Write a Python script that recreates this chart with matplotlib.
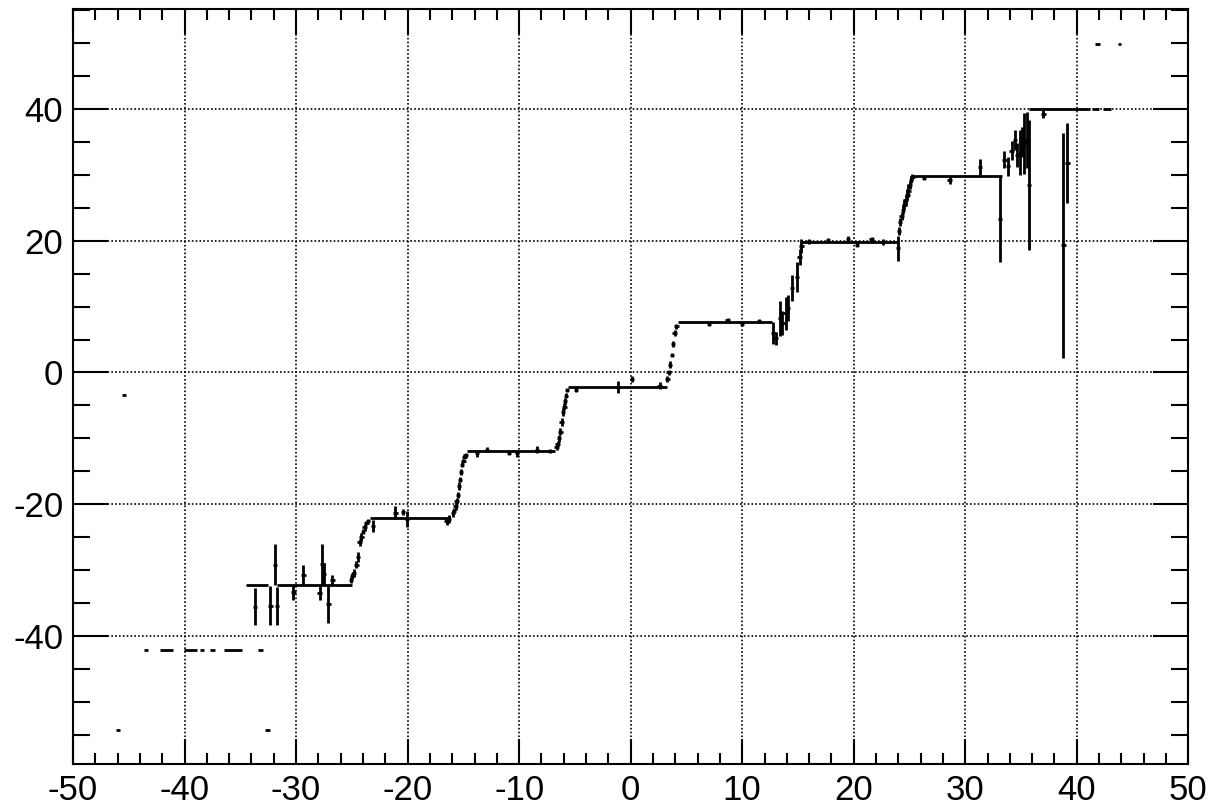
import matplotlib
matplotlib.use("Agg")
import matplotlib.pyplot as plt
from matplotlib.ticker import MultipleLocator

plt.rcParams['font.family'] = ['Liberation Sans', 'DejaVu Sans']
plt.rcParams['axes.unicode_minus'] = False

# flat runs of bins with negligible spread: (x start, x stop, level)
flat_start = [-43.63, -42.2, -40.04, -38.61, -37.71, -36.46, -33.41,
              -34.48, -31.75,
              -23.4, -14.7, -5.65, 4.2, 15.3, 25.3,
              35.75, 41.36, 42.36,
              41.66, 43.7]
flat_stop = [-43.27, -41.03, -38.88, -38.25, -37.26, -34.84, -32.96,
             -32.55, -25.0,
             -16.2, -6.75, 3.3, 12.7, 23.9, 33.3,
             41.15, 41.96, 43.1,
             42.1, 44.0]
flat_level = [-42.2, -42.2, -42.2, -42.2, -42.2, -42.2, -42.2,
              -32.2, -32.2,
              -22.05, -11.95, -2.25, 7.65, 19.8, 29.9,
              40.0, 40.0, 40.0,
              49.9, 49.9]

# single-entry bins away from the main trend
lone_x = [-45.45, -45.95, -32.57]
lone_y = [-3.4, -54.3, -54.3]

# bins with a visible spread
bin_x = [-33.7, -32.3, -31.9, -31.7, -30.25, -29.35, -27.9, -27.65, -27.5, -27.1, -26.75,
         -25.1, -25.0, -24.9, -24.8, -24.6, -24.45, -24.3, -24.15, -24.0, -23.85, -23.7, -23.55,
         -23.1,
         -21.1, -20.4, -20.05, -16.5, -16.3,
         -15.95, -15.85, -15.7, -15.6, -15.5, -15.4, -15.3, -15.2, -15.1, -15.0, -14.9, -14.8,
         -13.8, -12.9, -10.9, -10.2, -8.4, -7.2,
         -6.65, -6.55, -6.45, -6.3, -6.2, -6.05, -5.95, -5.9, -5.8, -5.7,
         -4.9, -1.1, 0.1, 2.6,
         3.3, 3.4, 3.55, 3.7, 3.8, 3.95, 4.1,
         7.0, 8.7, 10.0, 11.5,
         12.8, 13.0, 13.4, 13.6, 13.9, 14.1, 14.45, 14.9, 15.15, 15.3,
         16.0, 17.7, 19.5, 20.3, 21.6, 22.6, 23.95,
         24.05, 24.15, 24.3, 24.4, 24.55, 24.65, 24.8, 24.9, 25.05, 25.15, 25.25,
         26.3, 28.6, 31.3, 33.1, 33.5,
         33.85, 34.15, 34.45, 34.65, 34.9, 35.1, 35.3, 35.5, 35.7,
         37.0, 38.8, 39.15]
bin_y = [-35.6, -35.4, -29.2, -35.5, -33.4, -30.8, -33.5, -29.1, -30.6, -35.2, -31.5,
         -31.5, -30.9, -30.7, -30.5, -29.2, -28.0, -25.8, -25.0, -24.2, -23.5, -22.9, -22.5,
         -23.3,
         -21.3, -21.2, -22.2, -22.6, -22.3,
         -21.4, -21.0, -20.3, -19.5, -18.6, -17.3, -16.3, -15.1, -14.0, -13.4, -12.9, -12.5,
         -12.3, -11.7, -12.2, -12.3, -11.7, -11.9,
         -11.3, -10.8, -10.0, -9.0, -7.5, -6.0, -5.2, -4.4, -3.5, -2.7,
         -2.6, -2.25, -1.0, -2.0,
         -1.0, 0.0, 1.2, 2.6, 4.3, 6.0, 7.0,
         7.4, 7.9, 7.4, 7.8,
         6.0, 5.2, 8.2, 7.5, 9.0, 9.8, 12.8, 14.5, 17.5, 19.2,
         19.9, 20.1, 20.3, 19.4, 20.2, 19.8, 18.9,
         21.5, 22.8, 23.8, 24.7, 25.5, 26.2, 27.0, 27.6, 28.5, 29.3, 29.7,
         29.5, 29.2, 31.2, 23.3, 32.3,
         31.3, 33.7, 35.3, 33.0, 33.4, 35.0, 34.8, 35.3, 28.5,
         39.3, 19.3, 31.8]
bin_err = [2.8, 3.0, 3.1, 2.9, 1.2, 1.5, 1.1, 3.1, 1.6, 2.9, 0.7,
           0.4, 0.5, 0.4, 0.6, 0.5, 0.8, 0.5, 0.6, 0.4, 0.5, 0.3, 0.3,
           0.9,
           1.0, 0.5, 1.2, 0.5, 0.6,
           0.5, 0.4, 0.6, 0.5, 0.5, 0.6, 0.4, 0.5, 0.4, 0.3, 0.3, 0.3,
           0.5, 0.4, 0.3, 0.5, 0.5, 0.3,
           0.4, 0.4, 0.5, 0.5, 0.6, 0.6, 0.5, 0.5, 0.4, 0.3,
           0.4, 0.9, 0.5, 0.5,
           0.5, 0.4, 0.5, 0.3, 0.5, 0.4, 0.4,
           0.3, 0.3, 0.4, 0.3,
           1.7, 1.0, 2.6, 1.8, 2.5, 2.0, 2.0, 2.3, 1.2, 1.0,
           0.4, 0.3, 0.5, 0.4, 0.4, 0.4, 1.9,
           0.6, 0.6, 0.6, 0.7, 0.7, 0.8, 0.8, 1.0, 0.6, 0.5, 0.4,
           0.3, 0.6, 1.2, 6.5, 1.3,
           1.5, 1.4, 1.5, 1.8, 3.4, 2.3, 4.6, 4.3, 9.9,
           0.6, 17.1, 6.1]

half_bin = 0.2

fig = plt.figure(figsize=(12.09, 8.05), dpi=100)
ax = fig.add_axes([0.0604, 0.0506, 0.9225, 0.9382])

ax.hlines(flat_level, flat_start, flat_stop, colors='black', linewidth=2.0, zorder=3)
ax.hlines(lone_y, [x - half_bin for x in lone_x], [x + half_bin for x in lone_x],
          colors='black', linewidth=2.0, zorder=3)
ax.errorbar(bin_x, bin_y, xerr=half_bin, yerr=bin_err, fmt='none',
            ecolor='black', elinewidth=2.0, capsize=0, zorder=3)

ax.set_xlim(-50, 50)
ax.set_ylim(-59.5, 55.2)

ax.xaxis.set_major_locator(MultipleLocator(10))
ax.xaxis.set_minor_locator(MultipleLocator(2))
ax.yaxis.set_major_locator(MultipleLocator(20))
ax.yaxis.set_minor_locator(MultipleLocator(5))

ax.grid(True, which='major', color='black', linestyle=(0, (1, 1.3)), linewidth=1.2, zorder=1)
ax.set_axisbelow(True)

ax.tick_params(which='both', direction='in', top=True, right=True, width=1.5,
               colors='black', labelsize=25, pad=7)
ax.tick_params(axis='x', which='major', length=18)
ax.tick_params(axis='x', which='minor', length=8)
ax.tick_params(axis='y', which='major', length=25)
ax.tick_params(axis='y', which='minor', length=12)

for spine in ax.spines.values():
    spine.set_linewidth(1.5)

fig.savefig('out.png', dpi=100)
